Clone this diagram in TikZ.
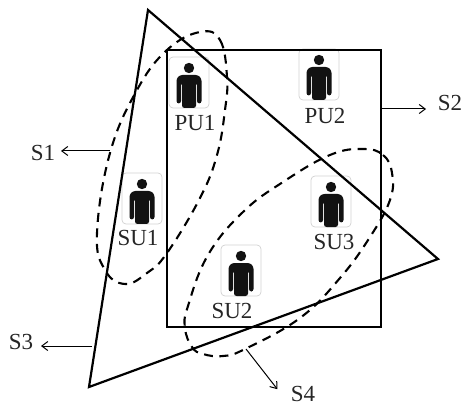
\documentclass[tikz,border=0pt]{standalone}
\usepackage{fontspec}
\setmainfont{Liberation Serif}
\usetikzlibrary{arrows.meta}
\tikzset{
  region/.style={line width=2.2pt, line join=miter},
  cluster/.style={line width=2.1pt, dash pattern=on 9pt off 6.5pt},
  pointer/.style={line width=1pt, -{Straight Barb[length=6pt,width=9pt]}, shorten >=1pt},
  tag/.style={inner sep=2pt, font=\fontsize{23}{23}\selectfont, text=black!85},
  user/.pic={
    \draw[gray!35, line width=0.7pt, fill=white, rounded corners=4pt] (-20,-25.5) rectangle (20,25.5);
    \fill[black!93] (0,-14.5) circle (5.2);
    \fill[black!93, rounded corners=2.5pt] (-12.5,21) -- (-12.5,-4) -- (-9,-7.5) -- (9,-7.5) -- (12.5,-4) -- (12.5,21) -- (8,21) -- (8,0) -- (7,0) -- (7,25.5) -- (-7,25.5) -- (-7,0) -- (-8,0) -- (-8,21) -- cycle;
  }
}
\begin{document}
\begin{tikzpicture}[x=1pt, y=-1pt]
  \useasboundingbox (0,0) rectangle (463,406);
  % users
  \pic at (189,82.5) {user};
  \pic at (319,74.5) {user};
  \pic at (142,198.5) {user};
  \pic at (241,270.5) {user};
  \pic at (331,201.5) {user};
  \node[tag] (pu1) at (195,123) {PU1};
  \node[tag] (pu2) at (325,116) {PU2};
  \node[tag] (su1) at (138,238) {SU1};
  \node[tag] (su2) at (232,311) {SU2};
  \node[tag] (su3) at (334,242) {SU3};
  % regions
  \draw[region] (167,50) rectangle (381,327);
  \draw[region] (148,10) -- (438,259) -- (89,387) -- cycle;
  % dashed clusters
  \draw[cluster] plot[smooth cycle, tension=0.7] coordinates {(200,32) (220,40) (227,77) (225,110) (217,155) (200,198) (167,253) (147,273) (125,284) (105,270) (97,233) (110,153) (137,90) (167,50)};
  \draw[cluster] plot[smooth cycle, tension=0.7] coordinates {(363,149) (383,155) (392,173) (390,200) (370,237) (340,278) (300,318) (245,349) (223,356) (203,354) (192,347) (185,328) (188,306) (208,255) (243,212) (283,182) (330,155)};
  % labels and pointers
  \node[tag] (s1) at (43,153) {S1};
  \node[tag] (s2) at (450,103) {S2};
  \node[tag] (s3) at (21,342) {S3};
  \node[tag] (s4) at (303,394) {S4};
  \coordinate (s1from) at (110,151);
  \coordinate (s2from) at (381,109);
  \coordinate (s3from) at (92,346);
  \coordinate (s4from) at (246,349);
  \coordinate (s1to) at (60,151);
  \coordinate (s2to) at (427,109);
  \coordinate (s3to) at (40,346);
  \coordinate (s4to) at (278,390);
  \draw[pointer] (s1from) -- (s1to);
  \draw[pointer] (s2from) -- (s2to);
  \draw[pointer] (s3from) -- (s3to);
  \draw[pointer] (s4from) -- (s4to);
\end{tikzpicture}
\end{document}
